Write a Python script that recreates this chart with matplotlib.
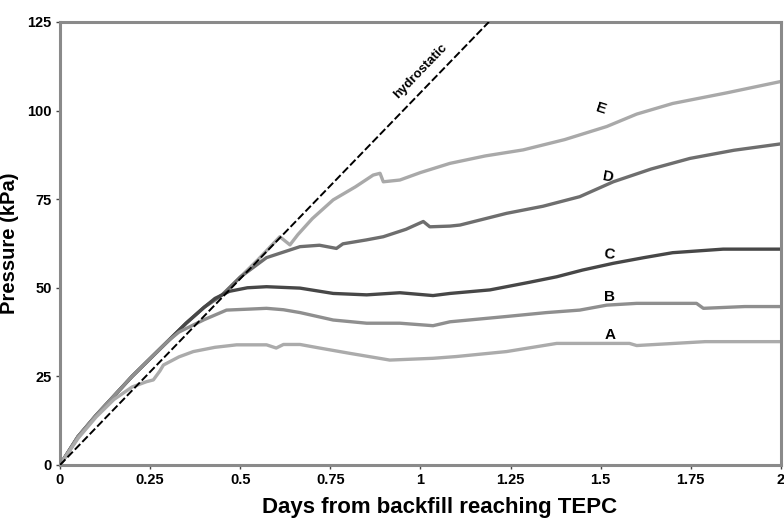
import matplotlib
matplotlib.use("Agg")
import matplotlib.pyplot as plt

plt.rcParams['font.family'] = ['Liberation Sans', 'DejaVu Sans']
plt.rcParams['font.weight'] = 'bold'

# hydrostatic reference line
hydro_x = [0.0, 1.19]
hydro_y = [0.0, 125.0]

# pressure cells A-E (days, kPa)
a_x = [0, 0.05, 0.1, 0.15, 0.2, 0.24, 0.259, 0.277, 0.287, 0.33, 0.37, 0.43, 0.49, 0.573, 0.6, 0.62,
       0.666, 0.72, 0.804, 0.915, 1.035, 1.1, 1.239, 1.378, 1.58, 1.6, 1.79, 2.0]
a_y = [0, 7.5, 13.5, 18.5, 22, 23.5, 24, 26.5, 28.2, 30.5, 32.0, 33.2, 33.9, 33.9, 33, 34,
       34, 33, 31.5, 29.6, 30.1, 30.6, 32.0, 34.3, 34.3, 33.7, 34.8, 34.8]

b_x = [0, 0.05, 0.1, 0.15, 0.2, 0.25, 0.3, 0.33, 0.37, 0.4, 0.462, 0.53, 0.573, 0.62, 0.666, 0.758,
       0.851, 0.943, 1.035, 1.082, 1.239, 1.35, 1.442, 1.517, 1.6, 1.766, 1.785, 1.9, 2.0]
b_y = [0, 8, 14, 19.5, 25, 30, 35, 37.5, 39.5, 41, 43.7, 44, 44.2, 43.8, 43, 40.9,
       40.0, 40.0, 39.3, 40.4, 41.9, 43, 43.7, 45.1, 45.6, 45.6, 44.2, 44.7, 44.7]

c_x = [0, 0.05, 0.1, 0.15, 0.2, 0.25, 0.3, 0.35, 0.4, 0.43, 0.47, 0.52, 0.573, 0.666, 0.758, 0.851,
       0.943, 1.035, 1.082, 1.193, 1.3, 1.378, 1.45, 1.535, 1.62, 1.7, 1.84, 2.0]
c_y = [0, 8, 14, 19.5, 25, 30, 35, 40, 44.5, 47.0, 49, 50, 50.3, 49.9, 48.4, 48.0,
       48.6, 47.8, 48.4, 49.4, 51.5, 53.1, 55, 56.9, 58.5, 59.9, 60.9, 60.9]

d_x = [0, 0.05, 0.1, 0.15, 0.2, 0.25, 0.3, 0.35, 0.4, 0.45, 0.5, 0.573, 0.666, 0.72, 0.767, 0.785,
       0.85, 0.897, 0.96, 1.008, 1.026, 1.082, 1.11, 1.239, 1.34, 1.442, 1.535, 1.64, 1.748, 1.87, 2.0]
d_y = [0, 8, 14, 19.5, 25, 30, 35, 40, 44.5, 48, 53, 58.5, 61.6, 62, 61.1, 62.4,
       63.5, 64.4, 66.5, 68.7, 67.2, 67.4, 67.7, 71.0, 73, 75.7, 79.9, 83.5, 86.5, 88.8, 90.6]

e_x = [0, 0.05, 0.1, 0.15, 0.2, 0.25, 0.3, 0.35, 0.4, 0.45, 0.5, 0.55, 0.61, 0.638, 0.66, 0.7,
       0.758, 0.82, 0.869, 0.888, 0.897, 0.943, 1.0, 1.082, 1.18, 1.285, 1.4, 1.517, 1.6, 1.7, 1.85, 2.0]
e_y = [0, 8, 14, 19.5, 25, 30, 35, 40, 44.5, 48, 53, 58, 64.4, 62.1, 65, 69.5,
       74.8, 78.5, 81.8, 82.3, 79.9, 80.4, 82.5, 85.1, 87.2, 88.9, 91.8, 95.5, 99, 102, 105, 108.2]

curve_names = ['E', 'D', 'C', 'B', 'A']
label_x = [1.5, 1.52, 1.525, 1.525, 1.525]
label_y = [100.5, 81.3, 59.3, 47.4, 36.7]
label_rot = [-18, -10, -5, 0, 0]

fig = plt.figure(figsize=(7.84, 5.2), dpi=100)
ax = fig.add_axes([0.0765, 0.1058, 0.9195, 0.852])

ax.plot(hydro_x, hydro_y, color='black', lw=1.4, ls=(0, (4, 1.5)), zorder=3)

curves = [(e_x, e_y, '#a9a9a9'), (d_x, d_y, '#6e6e6e'), (c_x, c_y, '#474747'),
          (b_x, b_y, '#8f8f8f'), (a_x, a_y, '#ababab')]
for xs, ys, col in curves:
    ax.plot(xs, ys, color=col, lw=2.4, solid_joinstyle='round', zorder=2)

for name, lx, ly, rot in zip(curve_names, label_x, label_y, label_rot):
    ax.text(lx, ly, name, fontsize=11, fontweight='bold', rotation=rot,
            ha='center', va='center', zorder=4)

ax.text(1.0, 111, 'hydrostatic', fontsize=9.5, fontweight='bold', rotation=46,
        ha='center', va='center')

ax.set_xlim(0, 2)
ax.set_ylim(0, 125)
ax.set_xticks([0, 0.25, 0.5, 0.75, 1, 1.25, 1.5, 1.75, 2])
ax.set_xticklabels(['0', '0.25', '0.5', '0.75', '1', '1.25', '1.5', '1.75', '2'])
ax.set_yticks([0, 25, 50, 75, 100, 125])

for sp in ax.spines.values():
    sp.set_color('#8a8a8a')
    sp.set_linewidth(2.2)

ax.tick_params(axis='both', direction='out', length=3, width=1, color='#444444',
               labelsize=10.5, pad=3)
for lbl in ax.get_xticklabels() + ax.get_yticklabels():
    lbl.set_fontweight('bold')

ax.set_xlabel('Days from backfill reaching TEPC', fontsize=16, fontweight='bold')
ax.set_ylabel('Pressure (kPa)', fontsize=14.5, fontweight='bold')
ax.xaxis.set_label_coords(0.526, -0.072)
ax.yaxis.set_label_coords(-0.057, 0.5)

fig.savefig('out.png', dpi=100)
